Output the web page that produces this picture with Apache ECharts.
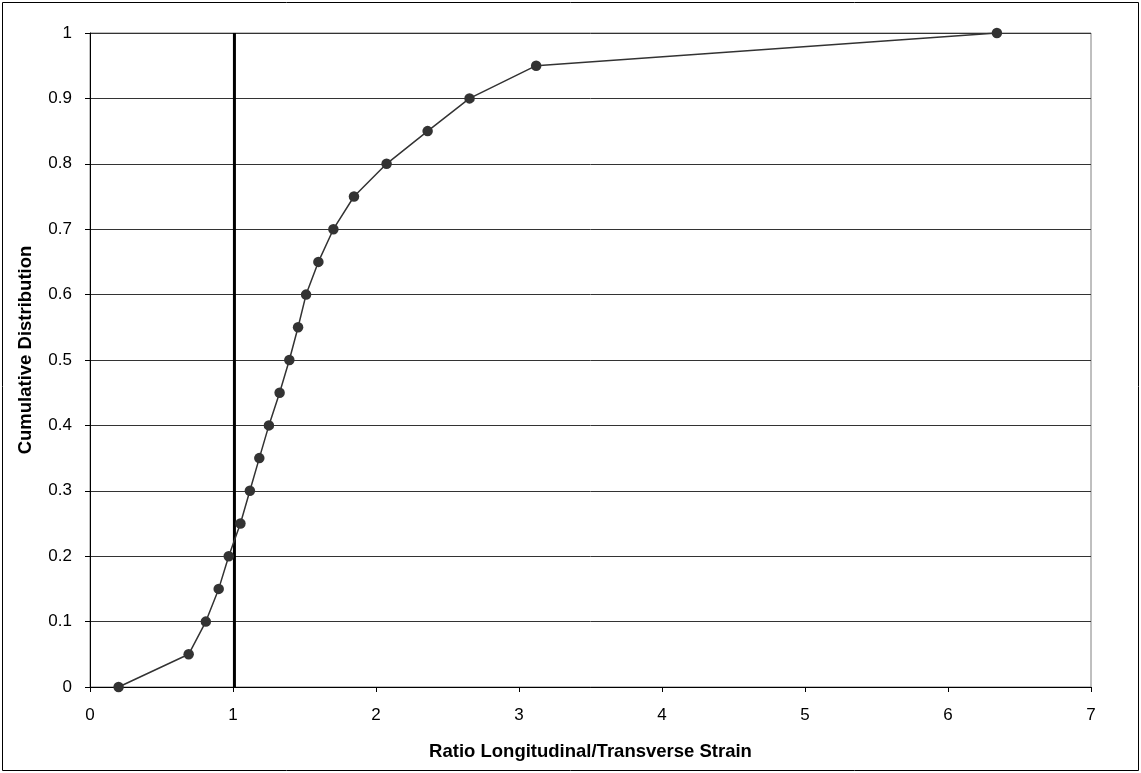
<!DOCTYPE html>
<html>
<head>
<meta charset="utf-8">
<script src="https://cdn.jsdelivr.net/npm/echarts@6/dist/echarts.min.js"></script>
<style>
  html, body { margin: 0; padding: 0; background: #fff; }
  #chart { width: 1141px; height: 773px; }
</style>
</head>
<body>
<div id="chart"></div>
<script>
// Strain ratio (longitudinal / transverse) for each sample, sorted
const strainRatio = [0.2, 0.69, 0.81, 0.9, 0.97, 1.052, 1.118, 1.184, 1.251, 1.326,
  1.394, 1.455, 1.511, 1.597, 1.702, 1.846, 2.074, 2.361, 2.654, 3.12, 6.342];
// Cumulative distribution value at each ratio
const cumulative = [0, 0.05, 0.1, 0.15, 0.2, 0.25, 0.3, 0.35, 0.4, 0.45,
  0.5, 0.55, 0.6, 0.65, 0.7, 0.75, 0.8, 0.85, 0.9, 0.95, 1.0];
// Reference line where the two strains are equal
const refLineX = [1.01, 1.01];
const refLineY = [0, 1];

const xTitle = 'Ratio Longitudinal/Transverse Strain';
const yTitle = 'Cumulative Distribution';

const chart = echarts.init(document.getElementById('chart'), null, { renderer: 'canvas' });

const font = 'Arial, "Liberation Sans", sans-serif';

chart.setOption({
  animation: false,
  backgroundColor: '#ffffff',
  grid: { left: 90, top: 33, right: 50, bottom: 86, show: true, borderColor: '#808080', borderWidth: 1 },
  xAxis: {
    type: 'value', min: 0, max: 7, interval: 1,
    name: xTitle, nameLocation: 'middle', nameGap: 55,
    nameTextStyle: { fontFamily: font, fontWeight: 'bold', fontSize: 18.5, color: '#000' },
    axisLine: { show: true, onZero: false, lineStyle: { color: '#000', width: 1 } },
    axisTick: { show: true, length: 5, lineStyle: { color: '#000' } },
    axisLabel: { fontFamily: font, fontSize: 17, color: '#000', margin: 20 },
    splitLine: { show: false }
  },
  yAxis: {
    type: 'value', min: 0, max: 1, interval: 0.1,
    name: yTitle, nameLocation: 'middle', nameGap: 55, nameRotate: 90,
    nameTextStyle: { fontFamily: font, fontWeight: 'bold', fontSize: 18.5, color: '#000',
      padding: [0, 0, 0, 20] },
    axisLine: { show: true, lineStyle: { color: '#000', width: 1 } },
    axisTick: { show: true, length: 5, lineStyle: { color: '#000' } },
    axisLabel: { fontFamily: font, fontSize: 17, color: '#000', margin: 18,
      formatter: v => String(Math.round(v * 10) / 10) },
    splitLine: { show: true, lineStyle: { color: '#333', width: 1 } }
  },
  series: [
    {
      type: 'line',
      data: refLineX.map((x, i) => [x, refLineY[i]]),
      symbol: 'none',
      lineStyle: { color: '#000', width: 3 },
      z: 3
    },
    {
      type: 'line',
      data: strainRatio.map((x, i) => [x, cumulative[i]]),
      symbol: 'circle', symbolSize: 10.5,
      itemStyle: { color: '#333333' },
      lineStyle: { color: '#333333', width: 1.5 },
      z: 4
    }
  ],
  graphic: [{
    type: 'rect', silent: true,
    shape: { x: 2.5, y: 2.5, width: 1136, height: 768 },
    style: { fill: null, stroke: '#000', lineWidth: 1 }
  }]
});
</script>
</body>
</html>
